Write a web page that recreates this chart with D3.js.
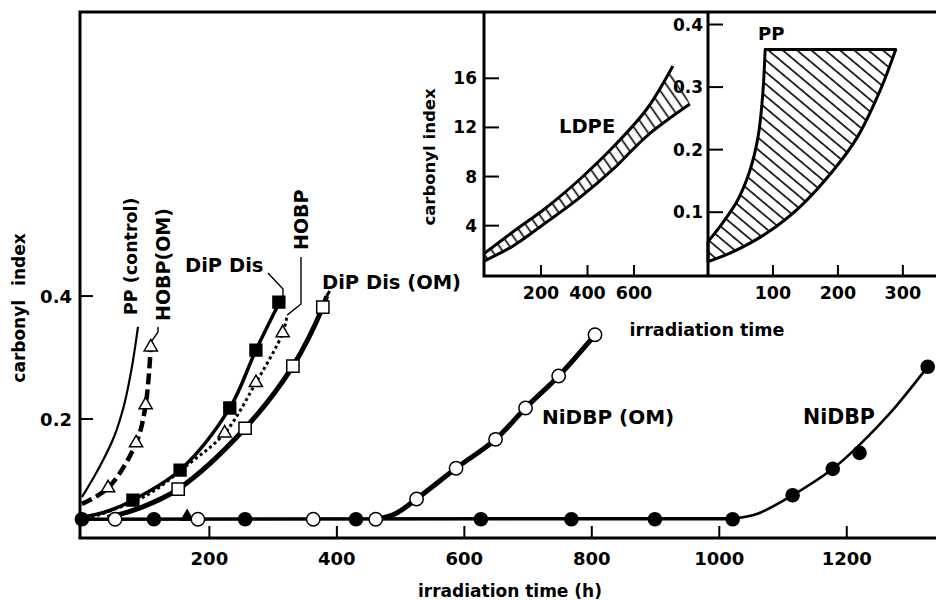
<!DOCTYPE html>
<html>
<head>
<meta charset="utf-8">
<script src="https://cdn.jsdelivr.net/npm/d3@7"></script>
<style>
  body { margin: 0; background: #fff; }
  svg text { font-family: 'DejaVu Sans', sans-serif; font-weight: bold; fill: #000; }
</style>
</head>
<body>
<div id="chart"></div>
<script>
// main chart: irradiation time (h) vs carbonyl index
const mainXTicks = [200, 400, 600, 800, 1000, 1200];
const mainYTicks = [0.2, 0.4];

const ppControlLine = [[0, 0.073], [25, 0.117], [50, 0.170], [66, 0.222], [78, 0.282], [88, 0.35]];
const hobpOmLine = [[0, 0.062], [41, 0.088], [85, 0.161], [100, 0.223], [108, 0.317]];
const hobpOmPoints = [[41, 0.088], [85, 0.161], [100, 0.223], [108, 0.317]];
const dipDisLine = [[0, 0.040], [40, 0.050], [80, 0.068], [154, 0.117], [232, 0.218], [273, 0.312], [311, 0.392]];
const dipDisPoints = [[80, 0.068], [154, 0.117], [232, 0.218], [273, 0.312], [309, 0.390]];
const hobpLine = [[15, 0.040], [100, 0.075], [169, 0.128], [224, 0.177], [273, 0.259], [315, 0.340], [322, 0.369]];
const hobpPoints = [[224, 0.177], [273, 0.259], [315, 0.340]];
const dipDisOmLine = [[40, 0.040], [90, 0.055], [151, 0.086], [256, 0.185], [331, 0.286], [378, 0.382], [384, 0.400]];
const dipDisOmPoints = [[151, 0.086], [256, 0.185], [331, 0.286], [378, 0.382]];
const baseLine = [[0, 0.037], [1030, 0.038]];
const baseFilled = [0, 113, 256, 430, 626, 768, 899, 1021];
const baseOpen = [52, 182, 363, 461];
const baseTriangle = [165];
const baseLevel = 0.037;
const nidbpOmLine = [[461, 0.037], [490, 0.045], [525, 0.070], [587, 0.120], [649, 0.167], [696, 0.218], [748, 0.270], [805, 0.337]];
const nidbpOmPoints = [[525, 0.070], [587, 0.120], [649, 0.167], [696, 0.218], [748, 0.270], [805, 0.337]];
const nidbpLine = [[1021, 0.038], [1060, 0.046], [1115, 0.076], [1178, 0.119], [1220, 0.158], [1270, 0.212], [1327, 0.285]];
const nidbpPoints = [[1115, 0.076], [1178, 0.119], [1220, 0.145], [1327, 0.285]];

// inset LDPE
const ldpeXTicks = [200, 400, 600];
const ldpeYTicks = [4, 8, 12, 16];
const ldpeUpper = [[-45, 1.72], [80, 3.5], [225, 5.5], [368, 7.8], [510, 10.4], [655, 13.5], [767, 17.0]];
const ldpeLower = [[-45, 1.12], [80, 2.35], [225, 4.3], [368, 6.3], [510, 8.6], [655, 11.3], [840, 13.9]];

// inset PP
const ppXTicks = [100, 200, 300];
const ppYTicks = [0.1, 0.2, 0.3, 0.4];
const ppLeft = [[0, 0.053], [24, 0.085], [46, 0.12], [64, 0.165], [77, 0.22], [84, 0.285], [88, 0.36]];
const ppRight = [[289, 0.36], [266, 0.297], [230, 0.22], [193, 0.167], [142, 0.109], [91, 0.067], [39, 0.037], [0, 0.021]];

const width = 936;
const height = 600;

const svg = d3.select('#chart')
  .append('svg')
  .attr('width', width)
  .attr('height', height);

const defs = svg.append('defs');

// hatch patterns for the two insets
let hatch = (id, spacing, angle) => {
  defs.append('pattern')
    .attr('id', id)
    .attr('patternUnits', 'userSpaceOnUse')
    .attr('width', spacing)
    .attr('height', spacing)
    .attr('patternTransform', `rotate(${angle})`)
    .append('line')
    .attr('x1', 0).attr('x2', spacing)
    .attr('y1', spacing / 2).attr('y2', spacing / 2)
    .attr('stroke', '#000')
    .attr('stroke-width', 1.6);
};
hatch('hatch-ldpe', 8.5, 55);
hatch('hatch-pp', 9.2, 40);

// scales
const x = d3.scaleLinear().domain([-3, 1340]).range([80, 936]);
const y = d3.scaleLinear().domain([0.0065, 0.862]).range([538, 12]);
const xL = d3.scaleLinear().domain([-45, 918]).range([484, 708]);
const yL = d3.scaleLinear().domain([-0.1, 21.4]).range([276, 12]);
const xP = d3.scaleLinear().domain([0, 351]).range([708, 936]);
const yP = d3.scaleLinear().domain([-0.002, 0.42]).range([276, 12]);

const line = (sx, sy) => d3.line()
  .x(d => sx(d[0]))
  .y(d => sy(d[1]))
  .curve(d3.curveCatmullRom.alpha(0.5));

const mainLine = line(x, y);

// frame and axes of the main chart
const frame = svg.append('g').attr('stroke', '#000').attr('stroke-width', 3).attr('fill', 'none');
frame.append('path').attr('d', `M${x(-3)},${y(0.0065)}V${y(0.862)}H${width}`);
frame.append('path').attr('d', `M${x(-3) - 1.5},${y(0.0065)}H${width}`);

// ticks pointing inwards
svg.append('g')
  .selectAll('line')
  .data(mainXTicks)
  .enter()
  .append('line')
  .attr('x1', d => x(d)).attr('x2', d => x(d))
  .attr('y1', y(0.0065)).attr('y2', y(0.0065) - 12)
  .attr('stroke', '#000').attr('stroke-width', 2);

svg.append('g')
  .selectAll('text')
  .data(mainXTicks)
  .enter()
  .append('text')
  .attr('x', d => x(d))
  .attr('y', 565)
  .attr('text-anchor', 'middle')
  .attr('font-size', 18)
  .text(d => d);

svg.append('g')
  .selectAll('line')
  .data(mainYTicks)
  .enter()
  .append('line')
  .attr('x1', x(-3)).attr('x2', x(-3) + 13)
  .attr('y1', d => y(d)).attr('y2', d => y(d))
  .attr('stroke', '#000').attr('stroke-width', 2);

svg.append('g')
  .selectAll('text')
  .data(mainYTicks)
  .enter()
  .append('text')
  .attr('x', 72)
  .attr('y', d => y(d) + 6.5)
  .attr('text-anchor', 'end')
  .attr('font-size', 18)
  .text(d => d.toFixed(1));

svg.append('text')
  .attr('x', 510)
  .attr('y', 597)
  .attr('text-anchor', 'middle')
  .attr('font-size', 17)
  .text('irradiation time (h)');

svg.append('text')
  .attr('transform', 'translate(25,308) rotate(-90)')
  .attr('text-anchor', 'middle')
  .attr('font-size', 17)
  .style('word-spacing', '8px')
  .text('carbonyl index');

// curves
const curves = svg.append('g').attr('fill', 'none').attr('stroke', '#000');
curves.append('path').attr('d', mainLine(ppControlLine)).attr('stroke-width', 2.2);
curves.append('path').attr('d', mainLine(hobpOmLine)).attr('stroke-width', 4.5).attr('stroke-dasharray', '11,5');
curves.append('path').attr('d', mainLine(dipDisLine)).attr('stroke-width', 3.5);
curves.append('path').attr('d', mainLine(hobpLine)).attr('stroke-width', 3).attr('stroke-dasharray', '3,3');
curves.append('path').attr('d', mainLine(dipDisOmLine)).attr('stroke-width', 5);
curves.append('path').attr('d', mainLine(baseLine)).attr('stroke-width', 3.5);
curves.append('path').attr('d', mainLine(nidbpOmLine)).attr('stroke-width', 5);
curves.append('path').attr('d', mainLine(nidbpLine)).attr('stroke-width', 2.6);

// markers
let markers = (data, type, size, filled) => {
  svg.append('g')
    .selectAll('path')
    .data(data)
    .enter()
    .append('path')
    .attr('transform', d => `translate(${x(d[0])},${y(d[1])})`)
    .attr('d', d3.symbol().type(type).size(size))
    .attr('fill', filled ? '#000' : '#fff')
    .attr('stroke', '#000')
    .attr('stroke-width', 1.5);
};
markers(hobpOmPoints, d3.symbolTriangle, 75, false);
markers(hobpPoints, d3.symbolTriangle, 75, false);
markers(dipDisPoints, d3.symbolSquare, 140, true);
markers(dipDisOmPoints, d3.symbolSquare, 150, false);
markers(baseTriangle.map(t => [t, baseLevel + 0.004]), d3.symbolTriangle, 60, true);
markers(baseFilled.map(t => [t, baseLevel]), d3.symbolCircle, 135, true);
markers(baseOpen.map(t => [t, baseLevel]), d3.symbolCircle, 140, false);
markers(nidbpOmPoints, d3.symbolCircle, 140, false);
markers(nidbpPoints, d3.symbolCircle, 135, true);

// labels with leader lines
const labels = svg.append('g');
labels.append('text').attr('transform', 'translate(137,315) rotate(-90)').attr('font-size', 17.5).text('PP (control)');
labels.append('text').attr('transform', 'translate(170,321) rotate(-90)').attr('font-size', 19).text('HOBP(OM)');
labels.append('text').attr('transform', 'translate(308,250) rotate(-90)').attr('font-size', 19).text('HOBP');
labels.append('text').attr('x', 185).attr('y', 272).attr('font-size', 19.5).text('DiP Dis');
labels.append('text').attr('x', 322).attr('y', 289).attr('font-size', 19.5).text('DiP Dis (OM)');
labels.append('text').attr('x', 542).attr('y', 424).attr('font-size', 20).text('NiDBP (OM)');
labels.append('text').attr('x', 803).attr('y', 424).attr('font-size', 20.5).text('NiDBP');

const leaders = svg.append('g').attr('fill', 'none').attr('stroke', '#000').attr('stroke-width', 1.4);
leaders.append('path').attr('d', `M${x(108) + 1},${y(0.317) - 6}L158,332V327`);
leaders.append('path').attr('d', `M268,273L283,289V${y(0.390) - 5}`);
leaders.append('path').attr('d', `M301,257V304L${x(322)},${y(0.369)}`);
leaders.append('path').attr('d', `M${x(384)},${y(0.400)}L${x(384) + 3},${y(0.400) - 5}`).attr('stroke-width', 3);

// ---- inset: LDPE ----
const inset = svg.append('g').attr('fill', 'none').attr('stroke', '#000').attr('stroke-width', 3);
inset.append('path').attr('d', `M${xL(-45)},${yL(21.4)}V${yL(-0.1)}H${width}`);
inset.append('path').attr('d', `M${xP(0)},${yP(0.42)}V${yP(-0.002)}`);

svg.append('g')
  .selectAll('line')
  .data(ldpeXTicks)
  .enter()
  .append('line')
  .attr('x1', d => xL(d)).attr('x2', d => xL(d))
  .attr('y1', yL(-0.1)).attr('y2', yL(-0.1) - 11)
  .attr('stroke', '#000').attr('stroke-width', 2);

svg.append('g')
  .selectAll('text')
  .data(ldpeXTicks)
  .enter()
  .append('text')
  .attr('x', d => xL(d))
  .attr('y', 299)
  .attr('text-anchor', 'middle')
  .attr('font-size', 17.5)
  .text(d => d);

svg.append('g')
  .selectAll('line')
  .data(ldpeYTicks)
  .enter()
  .append('line')
  .attr('x1', xL(-45)).attr('x2', xL(-45) + 15)
  .attr('y1', d => yL(d)).attr('y2', d => yL(d))
  .attr('stroke', '#000').attr('stroke-width', 2);

svg.append('g')
  .selectAll('text')
  .data(ldpeYTicks)
  .enter()
  .append('text')
  .attr('x', 477)
  .attr('y', d => yL(d) + 6)
  .attr('text-anchor', 'end')
  .attr('font-size', 17)
  .text(d => d);

const ldpeLine = line(xL, yL);
const ldpeBand = ldpeLine(ldpeUpper) + 'L' + ldpeLine(ldpeLower.slice().reverse()).slice(1) + 'Z';
svg.append('path')
  .attr('d', ldpeBand)
  .attr('fill', 'url(#hatch-ldpe)');
inset.append('path').attr('d', ldpeLine(ldpeUpper));
inset.append('path').attr('d', ldpeLine(ldpeLower));

svg.append('text').attr('x', 559).attr('y', 133).attr('font-size', 19.5).text('LDPE');
svg.append('text')
  .attr('transform', 'translate(435,157) rotate(-90)')
  .attr('text-anchor', 'middle')
  .attr('font-size', 16.5)
  .text('carbonyl index');
svg.append('text')
  .attr('x', 707)
  .attr('y', 336)
  .attr('text-anchor', 'middle')
  .attr('font-size', 17.5)
  .text('irradiation time');

// ---- inset: PP ----
svg.append('g')
  .selectAll('line')
  .data(ppXTicks)
  .enter()
  .append('line')
  .attr('x1', d => xP(d)).attr('x2', d => xP(d))
  .attr('y1', yP(-0.002)).attr('y2', yP(-0.002) - 11)
  .attr('stroke', '#000').attr('stroke-width', 2);

svg.append('g')
  .selectAll('text')
  .data(ppXTicks)
  .enter()
  .append('text')
  .attr('x', d => xP(d))
  .attr('y', 299)
  .attr('text-anchor', 'middle')
  .attr('font-size', 17.5)
  .text(d => d);

svg.append('g')
  .selectAll('line')
  .data(ppYTicks)
  .enter()
  .append('line')
  .attr('x1', xP(0)).attr('x2', xP(0) + 15)
  .attr('y1', d => yP(d)).attr('y2', d => yP(d))
  .attr('stroke', '#000').attr('stroke-width', 2);

svg.append('g')
  .selectAll('text')
  .data(ppYTicks)
  .enter()
  .append('text')
  .attr('x', 703)
  .attr('y', d => yP(d) + 6)
  .attr('text-anchor', 'end')
  .attr('font-size', 17)
  .text(d => d.toFixed(1));

const ppLine = line(xP, yP);
const ppShape = ppLine(ppLeft) + 'L' + ppLine(ppRight).slice(1) + 'Z';
svg.append('path')
  .attr('d', ppShape)
  .attr('fill', 'url(#hatch-pp)')
  .attr('stroke', '#000')
  .attr('stroke-width', 3)
  .attr('stroke-linejoin', 'round');

svg.append('text').attr('x', 758).attr('y', 40).attr('font-size', 18).text('PP');
</script>
</body>
</html>
